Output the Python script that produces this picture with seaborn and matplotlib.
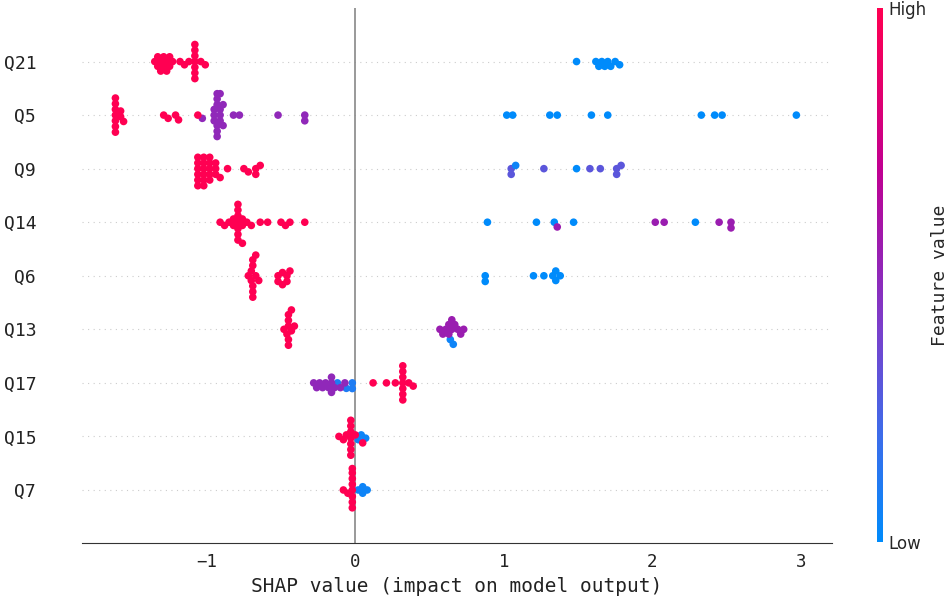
import numpy as np
import pandas as pd
import seaborn as sns
import matplotlib
matplotlib.use('Agg')
from matplotlib import pyplot as plt
from matplotlib.colors import LinearSegmentedColormap, Normalize
from matplotlib.cm import ScalarMappable

features = ['Q21', 'Q5', 'Q9', 'Q14', 'Q6', 'Q13', 'Q17', 'Q15', 'Q7']

# shap value, how many samples sit at that value, feature value (0 low .. 1 high)
q21_shap = [1.49, 1.62, 1.64, 1.66, 1.68, 1.70, 1.72, 1.75, 1.78,
            -1.35, -1.33, -1.31, -1.29, -1.27, -1.25, -1.23, -1.18, -1.15, -1.12,
            -1.08, -1.04, -1.01]
q21_count = [1, 1, 1, 1, 1, 1, 1, 1, 1,
             1, 2, 2, 2, 2, 2, 1, 1, 1, 1,
             7, 1, 1]
q21_fval = [0.0] * 9 + [1.0] * 13

q5_shap = [1.02, 1.06, 1.31, 1.36, 1.59, 1.70, 2.33, 2.42, 2.47, 2.97,
           -1.03, -0.95, -0.93, -0.91, -0.89, -0.82, -0.78, -0.52, -0.34,
           -1.615, -1.58, -1.56, -1.29, -1.26, -1.21, -1.19, -1.06]
q5_count = [1] * 10 + [1, 3, 6, 4, 2, 1, 1, 1, 2] + [7, 2, 1, 1, 1, 1, 1, 1]
q5_fval = [0.0] * 10 + [0.5] * 9 + [1.0] * 8

q9_shap = [1.05, 1.08, 1.27, 1.49, 1.58, 1.65, 1.76, 1.79,
           -1.06, -1.02, -0.98, -0.94, -0.91, -0.86, -0.75, -0.72, -0.67, -0.64]
q9_count = [2, 1, 1, 1, 1, 1, 2, 1,
            6, 6, 5, 3, 1, 1, 1, 1, 2, 1]
q9_fval = [0.3, 0.05, 0.3, 0.0, 0.3, 0.3, 0.3, 0.3] + [1.0] * 10

q14_shap = [0.89, 1.22, 1.34, 1.47, 2.29, 1.36, 2.02, 2.08, 2.45, 2.53,
            -0.91, -0.88, -0.85, -0.82, -0.79, -0.76, -0.73, -0.70,
            -0.64, -0.59, -0.50, -0.47, -0.44, -0.34]
q14_count = [1, 1, 1, 1, 1, 1, 1, 1, 1, 2,
             1, 1, 1, 2, 7, 3, 1, 1,
             1, 1, 1, 1, 1, 1]
q14_fval = [0.0] * 5 + [0.55] * 5 + [1.0] * 14

q6_shap = [0.875, 1.20, 1.27, 1.33, 1.35, 1.38,
           -0.72, -0.70, -0.69, -0.67, -0.65, -0.52, -0.49, -0.46, -0.44]
q6_count = [2, 1, 1, 1, 2, 1,
            1, 2, 5, 2, 1, 2, 2, 2, 1]
q6_fval = [0.0] * 6 + [1.0] * 9

q13_shap = [0.64, 0.66,
            0.57, 0.59, 0.61, 0.63, 0.65, 0.67, 0.69, 0.71, 0.73,
            -0.48, -0.46, -0.45, -0.43, -0.41]
q13_count = [1, 1,
             1, 1, 1, 2, 2, 1, 1, 1, 1,
             1, 1, 5, 2, 1]
q13_fval = [0.05, 0.05] + [0.55] * 9 + [1.0] * 5

q17_shap = [-0.12, -0.06, -0.02,
            -0.28, -0.26, -0.24, -0.22, -0.20, -0.18, -0.16, -0.14, -0.10, -0.07,
            0.12, 0.21, 0.27, 0.32, 0.36, 0.39]
q17_count = [1, 1, 2,
             1, 1, 1, 1, 1, 1, 3, 1, 1, 1,
             1, 1, 1, 7, 1, 1]
q17_fval = [0.1] * 3 + [0.5] * 10 + [1.0] * 6

q15_shap = [0.02, 0.04, 0.07,
            -0.11, -0.08, -0.06, -0.03, 0.0, 0.05]
q15_count = [1, 1, 1,
             1, 1, 1, 7, 1, 1]
q15_fval = [0.05] * 3 + [1.0] * 6

q7_shap = [0.02, 0.05, 0.08,
           -0.08, -0.05, -0.02]
q7_count = [1, 2, 1,
            1, 1, 8]
q7_fval = [0.05] * 3 + [1.0] * 3

series = {
    'Q21': (q21_shap, q21_count, q21_fval),
    'Q5': (q5_shap, q5_count, q5_fval),
    'Q9': (q9_shap, q9_count, q9_fval),
    'Q14': (q14_shap, q14_count, q14_fval),
    'Q6': (q6_shap, q6_count, q6_fval),
    'Q13': (q13_shap, q13_count, q13_fval),
    'Q17': (q17_shap, q17_count, q17_fval),
    'Q15': (q15_shap, q15_count, q15_fval),
    'Q7': (q7_shap, q7_count, q7_fval),
}

rows = []
for name in features:
    s, c, f = series[name]
    for v, n, fv in zip(s, c, f):
        for _ in range(n):
            rows.append((name, v, fv))
df = pd.DataFrame(rows, columns=['feature', 'shap', 'fval'])

# shap-like red/blue map
cmap = LinearSegmentedColormap.from_list('shap_rb', [
    (0.0, '#008bfb'), (0.2, '#3d6cea'), (0.4, '#7a3fcb'), (0.55, '#9a1db0'),
    (0.7, '#c10091'), (0.85, '#e3006d'), (1.0, '#ff0052')])

sns.set_style('white')
plt.rcParams['font.family'] = ['DejaVu Sans Mono', 'DejaVu Sans']

fig = plt.figure(figsize=(9.48, 6.01), dpi=100)
ax = fig.add_axes([82 / 948, 58 / 601, 750 / 948, 535 / 601])

for i in range(len(features)):
    ax.axhline(i, color='#cccccc', lw=0.8, dashes=(1, 4), zorder=-1)
ax.axvline(0, color='#888888', lw=1.2, zorder=-1)

sns.swarmplot(data=df, x='shap', y='feature', hue='fval', order=features,
              palette=cmap, hue_norm=(0, 1), size=3.9, linewidth=0,
              legend=False, ax=ax, warn_thresh=1)

ax.set_xlim(-1.84, 3.21)
ax.set_ylim(8.99, -1.0)
ax.set_xticks([-1, 0, 1, 2, 3])
ax.set_xticklabels(['\u22121', '0', '1', '2', '3'])
ax.set_xlabel('SHAP value (impact on model output)', fontsize=14, color='#222222')
ax.set_ylabel('')
for sp in ['left', 'right', 'top']:
    ax.spines[sp].set_visible(False)
ax.spines['bottom'].set_color('#333333')
ax.tick_params(axis='x', length=4, color='#333333', labelcolor='#222222', labelsize=12.5)
ax.tick_params(axis='y', length=0, pad=33, labelcolor='#222222', labelsize=13)

cax = fig.add_axes([877 / 948, 59 / 601, 6 / 948, 534 / 601])
cb = fig.colorbar(ScalarMappable(norm=Normalize(0, 1), cmap=cmap), cax=cax, ticks=[0, 1])
cb.outline.set_visible(False)
cb.set_ticklabels(['Low', 'High'])
cax.tick_params(length=0, labelsize=12, pad=4)
for t in cax.get_yticklabels():
    t.set_family('DejaVu Sans')
cb.set_label('Feature value', fontsize=13, labelpad=3)

# place the swarm once, then draw the dots a bit larger so they overlap like shap's
fig.canvas.draw()
for coll in ax.collections:
    if 'draw' in coll.__dict__:
        del coll.__dict__['draw']
        coll.set_sizes([30])

fig.savefig('out.png', dpi=100)
